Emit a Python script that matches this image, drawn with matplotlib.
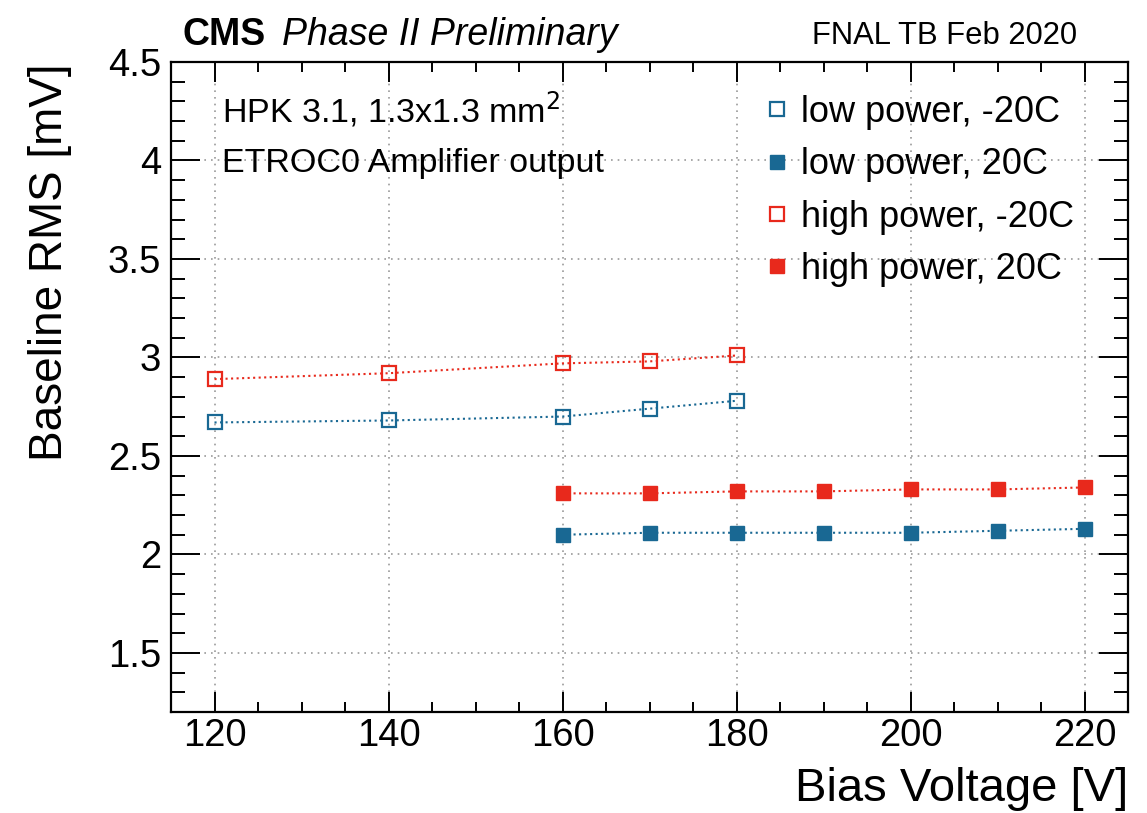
# Baseline RMS vs bias voltage, ETROC0 amplifier output (FNAL TB Feb 2020)
import matplotlib
matplotlib.use('Agg')
import matplotlib.pyplot as plt
from matplotlib.ticker import MultipleLocator, FuncFormatter

plt.rcParams['font.family'] = ['Liberation Sans', 'DejaVu Sans']

# data
bias_cold = [120, 140, 160, 170, 180]
bias_warm = [160, 170, 180, 190, 200, 210, 220]

low_cold = [2.67, 2.68, 2.70, 2.74, 2.78]
high_cold = [2.89, 2.92, 2.97, 2.98, 3.01]
low_warm = [2.10, 2.11, 2.11, 2.11, 2.11, 2.12, 2.13]
high_warm = [2.31, 2.31, 2.32, 2.32, 2.33, 2.33, 2.34]

labels = ['low power, -20C', 'low power, 20C', 'high power, -20C', 'high power, 20C']

blue = '#196893'
red = '#e8291c'

W, H = 1147, 813
fig = plt.figure(figsize=(W / 100, H / 100), dpi=100)
ax = fig.add_axes([171 / W, 1 - 712 / H, (1128 - 171) / W, (712 - 62) / H])

ms = 10.5
ax.plot(bias_cold, low_cold, ls=':', lw=1.5, color=blue, marker='s', ms=ms,
        mfc='none', mec=blue, mew=1.6, label=labels[0])
ax.plot(bias_warm, low_warm, ls=':', lw=1.5, color=blue, marker='s', ms=ms,
        mfc=blue, mec=blue, label=labels[1])
ax.plot(bias_cold, high_cold, ls=':', lw=1.5, color=red, marker='s', ms=ms,
        mfc='none', mec=red, mew=1.6, label=labels[2])
ax.plot(bias_warm, high_warm, ls=':', lw=1.5, color=red, marker='s', ms=ms,
        mfc=red, mec=red, label=labels[3])

ax.set_xlim(115, 225)
ax.set_ylim(1.2, 4.5)

ax.xaxis.set_major_locator(MultipleLocator(20))
ax.xaxis.set_minor_locator(MultipleLocator(5))
ax.yaxis.set_major_locator(MultipleLocator(0.5))
ax.yaxis.set_minor_locator(MultipleLocator(0.1))
ax.yaxis.set_major_formatter(FuncFormatter(lambda v, p: f'{v:g}'))

ax.grid(True, which='major', color='#9a9a9a', ls=(0, (1, 3)), lw=1.2)
ax.set_axisbelow(True)

for s in ax.spines.values():
    s.set_linewidth(1.6)

ax.tick_params(axis='both', which='both', direction='in', top=True, right=True,
               width=1.4, labelsize=27.5)
ax.tick_params(axis='x', which='major', length=14.5, pad=4)
ax.tick_params(axis='x', which='minor', length=7)
ax.tick_params(axis='y', which='major', length=21, pad=7)
ax.tick_params(axis='y', which='minor', length=10)

# axis titles
fig.text(1128 / W, 1 - 801 / H, 'Bias Voltage [V]', fontsize=34,
         ha='right', va='baseline')
fig.text(50 / W, 1 - 63 / H, 'Baseline RMS [mV]', fontsize=33,
         rotation=90, ha='center', va='top')

# header
fig.text(183 / W, 1 - 45 / H, 'CMS', fontsize=27, fontweight='bold',
         ha='left', va='baseline')
fig.text(282 / W, 1 - 45 / H, 'Phase II Preliminary', fontsize=27,
         style='italic', ha='left', va='baseline')
fig.text(1077 / W, 1 - 44 / H, 'FNAL TB Feb 2020', fontsize=22.3,
         ha='right', va='baseline')

# sensor info
fig.text(222 / W, 1 - 122 / H, r'HPK 3.1, 1.3x1.3 mm$^{2}$', fontsize=24.5,
         ha='left', va='baseline')
fig.text(222 / W, 1 - 172 / H, 'ETROC0 Amplifier output', fontsize=24.5,
         ha='left', va='baseline')

ax.legend(loc='upper left',
          bbox_to_anchor=((761 - 171) / (1128 - 171), 1 - (95 - 62) / 650),
          frameon=False, fontsize=26, handlelength=0.9, handletextpad=0.2,
          labelspacing=0.48, borderaxespad=0, borderpad=0)
for h in ax.get_legend().get_lines():
    h.set_linestyle('none')

fig.savefig('out.png', dpi=100)
